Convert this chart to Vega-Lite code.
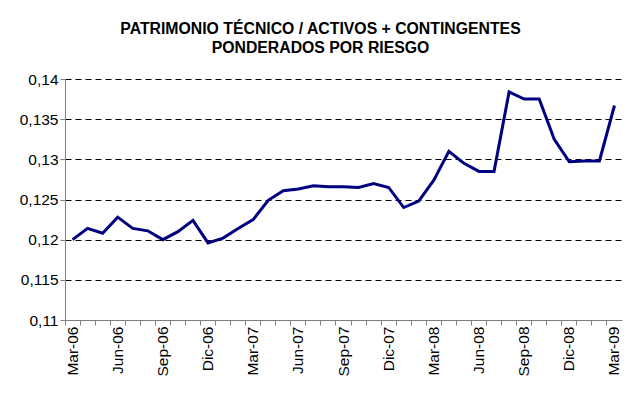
{
  "$schema": "https://vega.github.io/schema/vega-lite/v6.json",
  "width": 557,
  "height": 241,
  "autosize": {"type": "none"},
  "padding": {"left": 65, "top": 79, "right": 7, "bottom": 94},
  "background": "white",
  "title": {
    "text": ["PATRIMONIO TÉCNICO / ACTIVOS + CONTINGENTES", "PONDERADOS POR RIESGO"],
    "font": "Liberation Sans",
    "fontSize": 15.8,
    "fontWeight": "bold",
    "color": "black",
    "anchor": "middle",
    "dx": -23,
    "lineHeight": 19,
    "offset": 15
  },
  "data": {
    "values": [
      {"mes": "Mar-06", "valor": 0.1200},
      {"mes": "Abr-06", "valor": 0.1214},
      {"mes": "May-06", "valor": 0.1208},
      {"mes": "Jun-06", "valor": 0.1228},
      {"mes": "Jul-06", "valor": 0.1214},
      {"mes": "Ago-06", "valor": 0.1211},
      {"mes": "Sep-06", "valor": 0.1200},
      {"mes": "Oct-06", "valor": 0.1210},
      {"mes": "Nov-06", "valor": 0.1224},
      {"mes": "Dic-06", "valor": 0.1196},
      {"mes": "Ene-07", "valor": 0.1202},
      {"mes": "Feb-07", "valor": 0.1214},
      {"mes": "Mar-07", "valor": 0.1225},
      {"mes": "Abr-07", "valor": 0.1249},
      {"mes": "May-07", "valor": 0.1261},
      {"mes": "Jun-07", "valor": 0.1263},
      {"mes": "Jul-07", "valor": 0.1267},
      {"mes": "Ago-07", "valor": 0.1266},
      {"mes": "Sep-07", "valor": 0.1266},
      {"mes": "Oct-07", "valor": 0.1265},
      {"mes": "Nov-07", "valor": 0.1270},
      {"mes": "Dic-07", "valor": 0.1265},
      {"mes": "Ene-08", "valor": 0.1240},
      {"mes": "Feb-08", "valor": 0.1248},
      {"mes": "Mar-08", "valor": 0.1274},
      {"mes": "Abr-08", "valor": 0.1310},
      {"mes": "May-08", "valor": 0.1295},
      {"mes": "Jun-08", "valor": 0.1285},
      {"mes": "Jul-08", "valor": 0.1285},
      {"mes": "Ago-08", "valor": 0.1384},
      {"mes": "Sep-08", "valor": 0.1375},
      {"mes": "Oct-08", "valor": 0.1375},
      {"mes": "Nov-08", "valor": 0.1325},
      {"mes": "Dic-08", "valor": 0.1297},
      {"mes": "Ene-09", "valor": 0.1298},
      {"mes": "Feb-09", "valor": 0.1298},
      {"mes": "Mar-09", "valor": 0.1367}
    ]
  },
  "mark": {"type": "line", "color": "#000080", "strokeWidth": 3, "strokeJoin": "miter"},
  "encoding": {
    "x": {
      "field": "mes",
      "type": "nominal",
      "sort": null,
      "scale": {"type": "band", "paddingInner": 0, "paddingOuter": 0},
      "axis": {
        "title": null,
        "bandPosition": 0,
        "labelOffset": 0,
        "labelAngle": 270,
        "labelAlign": "right",
        "labelBaseline": "middle",
        "labelFont": "Liberation Sans",
        "labelFontSize": 15.5,
        "labelColor": "black",
        "labelPadding": 1,
        "labelOverlap": false,
        "labelExpr": "indexof(['Mar','Jun','Sep','Dic'], substring(datum.value,0,3)) >= 0 ? datum.value : ''",
        "domainColor": "#808080",
        "domainWidth": 1,
        "tickColor": "#808080",
        "tickSize": 5,
        "grid": false
      }
    },
    "y": {
      "field": "valor",
      "type": "quantitative",
      "scale": {"domain": [0.11, 0.14], "nice": false, "zero": false},
      "axis": {
        "title": null,
        "values": [0.11, 0.115, 0.12, 0.125, 0.13, 0.135, 0.14],
        "labelExpr": "replace(format(datum.value, '.3~f'), '.', ',')",
        "labelFont": "Liberation Sans",
        "labelFontSize": 15.5,
        "labelColor": "black",
        "labelPadding": 2,
        "domainColor": "#808080",
        "tickColor": "#808080",
        "tickSize": 5,
        "grid": true,
        "gridColor": "black",
        "gridDash": [6, 4],
        "gridWidth": 1
      }
    }
  },
  "config": {"view": {"stroke": null}}
}
